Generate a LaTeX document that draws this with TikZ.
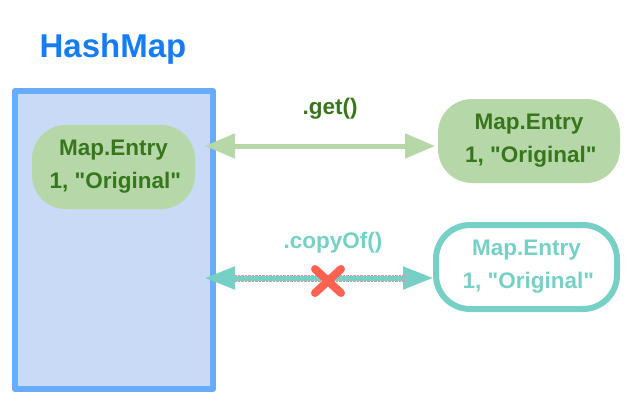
\documentclass[tikz,border=0pt]{standalone}
\usepackage{fontspec}
\setmainfont{Liberation Sans}[Ligatures=TeXOff]
\usetikzlibrary{
	arrows.meta,
	calc
}
\definecolor{HBlue}{RGB}{22,124,246}
\definecolor{HEdge}{RGB}{104,172,252}
\definecolor{HFill}{RGB}{200,218,246}
\definecolor{EGreen}{RGB}{182,215,168}
\definecolor{DGreen}{RGB}{56,118,29}
\definecolor{ETeal}{RGB}{118,208,198}
\definecolor{XRed}{RGB}{255,98,80}
\definecolor{LPink}{RGB}{232,150,150}
\tikzset{
	entrybox/.style={rounded corners=34pt, minimum width=#1, minimum height=84pt,
		inner sep=0pt, outer sep=0pt, align=center,
		font=\fontsize{22.5}{33}\selectfont\bfseries},
	methodlbl/.style={font=\fontsize{22.5}{27}\selectfont\bfseries, inner sep=0pt},
	getarrow/.style={EGreen, line width=5pt,
		{Triangle[length=30pt,width=24pt]}-{Triangle[length=30pt,width=24pt]}},
	copyarrow/.style={ETeal, line width=5pt,
		{Triangle[length=30pt,width=22pt]}-{Triangle[length=30pt,width=22pt]}},
}
\newcommand{\redcross}[1]{%
	\draw[XRed, line width=8pt, line cap=round]
	($(#1)+(-13,-12)$) -- ($(#1)+(13,12)$);
	\draw[XRed, line width=8pt, line cap=round]
	($(#1)+(-13,12)$) -- ($(#1)+(13,-12)$);
}

\begin{document}
\begin{tikzpicture}[x=1pt, y=-1pt, line join=round]
	\useasboundingbox (0,0) rectangle (636,418);
	
	% -- Title -------------------------------------------------
	\node[HBlue, font=\fontsize{33}{40}\selectfont\bfseries, inner sep=0pt]
	(title) at (113,49) {HashMap};
	
	% -- HashMap body ------------------------------------------
	\node[draw=HEdge, fill=HFill, line width=6pt, outer sep=3pt,
	minimum width=198pt, minimum height=298pt, inner sep=0pt]
	(map) at (114,240) {};
	
	% -- Entry inside the map ----------------------------------
	\node[entrybox=163pt, fill=EGreen, text=DGreen]
	(entry) at (113.5,167) {Map.Entry\\ \,1, "Original"};
	
	% -- Entry returned by get ---------------------------------
	\node[entrybox=182pt, fill=EGreen, text=DGreen]
	(got) at (529,141) {Map.Entry\\ \,1, "Original"};
	
	% -- Entry made by copyOf ----------------------------------
	\node[entrybox=181pt, draw=ETeal, line width=6pt, outer sep=3pt,
	text=ETeal]
	(copy) at (526.5,267) {Map.Entry\\ \,1, "Original"};
	
	% -- get() arrow -------------------------------------------
	\coordinate (gety) at (0,146);
	\draw[getarrow, shorten <=-11pt, shorten >=3pt]
	(map.east |- gety) -- (got.west |- gety);
	\node[methodlbl, text=DGreen] (getlbl) at (330,109) {.get()};
	
	% -- copyOf() arrow (not the same object) ------------------
	\coordinate (copyy) at (0,278);
	\draw[copyarrow, shorten <=-11pt]
	(map.east |- copyy) -- (copy.west |- copyy);
	\draw[LPink, line width=0.6pt, dash pattern=on 2.5pt off 1pt]
	(234,275) -- (406,275) (234,281) -- (406,281);
	\node[methodlbl, text=ETeal] (copylbl) at (333,243) {.copyOf()};
	
	\coordinate (cross) at (328,281);
	\redcross{cross}
	
\end{tikzpicture}
\end{document}
